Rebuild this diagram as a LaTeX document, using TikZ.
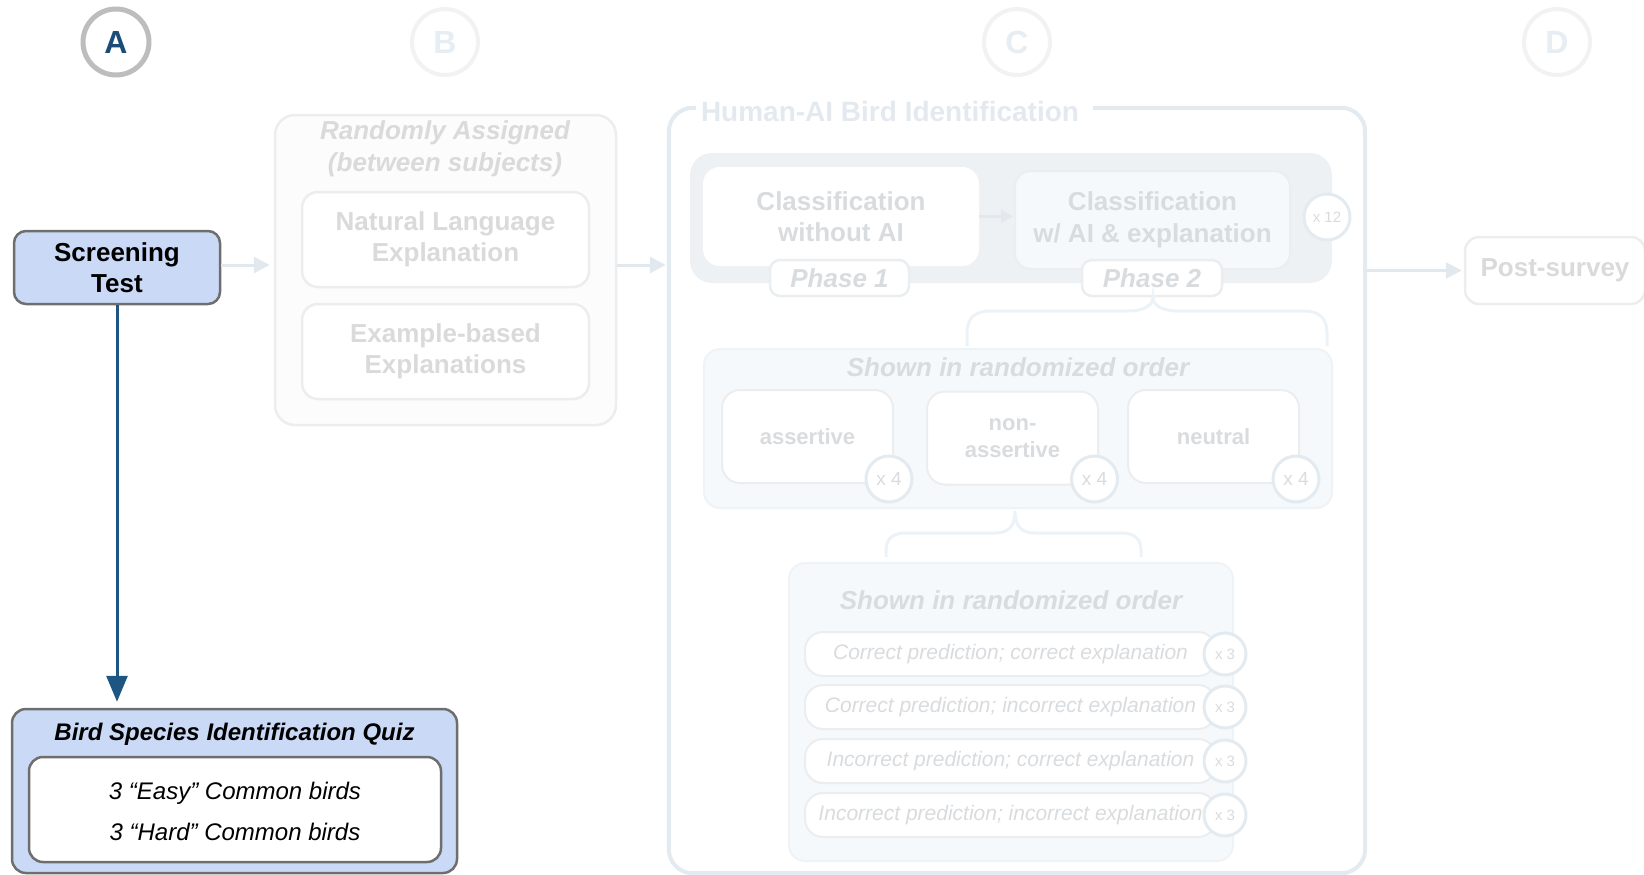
\documentclass[tikz,border=0pt]{standalone}
\usepackage{fontspec}
\setmainfont{Liberation Sans}
\usetikzlibrary{arrows.meta}

\definecolor{navyline}{HTML}{1D5683}
\definecolor{navyletter}{HTML}{1B4C78}
\definecolor{ringA}{HTML}{BDBDBD}
\definecolor{stepfill}{HTML}{C9D9F6}
\definecolor{stepline}{HTML}{6E6E6E}
\definecolor{fadering}{HTML}{F1F2F3}
\definecolor{fadeletter}{HTML}{E6EDF3}
\definecolor{grayline}{HTML}{EDEDED}
\definecolor{graytext}{HTML}{DADADA}
\definecolor{palearrow}{HTML}{E1E8EE}
\definecolor{cline}{HTML}{E3EAF0}
\definecolor{ctitle}{HTML}{E3E9EF}
\definecolor{bandfill}{HTML}{EEF1F4}
\definecolor{ctext}{HTML}{D9DCDF}
\definecolor{paleblue}{HTML}{F5F9FC}
\definecolor{boxline}{HTML}{EAEEF1}
\definecolor{bracecol}{HTML}{EBF2F8}
\definecolor{panelline}{HTML}{EEF3F7}

\tikzset{
  stagecirc/.style={circle, draw=fadering, fill=white, text=fadeletter, line width=4pt,
    minimum size=66pt, inner sep=0pt, font=\fontsize{32}{32}\selectfont\bfseries},
  activebox/.style={rectangle, rounded corners=12pt, draw=stepline, fill=stepfill,
    line width=2.5pt, inner sep=0pt, align=center},
  fadepanel/.style={rectangle, rounded corners=20pt, draw=grayline, fill=white!98!gray,
    line width=2.5pt, inner sep=0pt},
  fadebox/.style={rectangle, rounded corners=16pt, draw=grayline, fill=white, line width=2.5pt,
    inner sep=0pt, align=center, text=graytext, font=\fontsize{26}{31.5}\selectfont\bfseries,
    minimum width=287pt, minimum height=95pt},
  palearrowline/.style={draw=palearrow, line width=3pt,
    -{Triangle[length=16pt,width=16pt]}, color=palearrow},
  clsbox/.style={rectangle, rounded corners=16pt, line width=2pt, inner sep=0pt, align=center,
    text=ctext, font=\fontsize{26}{31.5}\selectfont\bfseries},
  phasetag/.style={rectangle, rounded corners=10pt, draw=boxline, fill=white, line width=2.5pt,
    inner sep=0pt, text=ctext, font=\fontsize{26}{26}\selectfont\bfseries\itshape,
    minimum width=139pt, minimum height=36pt},
  countcirc/.style={circle, draw=cline, fill=white, line width=3pt, inner sep=0pt,
    text=ctext, font=\fontsize{#1}{#1}\selectfont},
  tonebox/.style={rectangle, rounded corners=18pt, draw=boxline, fill=white, line width=2pt,
    inner sep=0pt, align=center, text=ctext, font=\fontsize{22}{27}\selectfont\bfseries,
    minimum width=171pt, minimum height=93pt},
  rowbox/.style={rectangle, rounded corners=18pt, draw=boxline, fill=white, line width=2pt,
    inner sep=0pt, text=ctext, font=\fontsize{21}{21}\selectfont\itshape,
    minimum width=411pt, minimum height=44pt},
  orderpanel/.style={rectangle, rounded corners=16pt, draw=panelline, fill=paleblue,
    line width=2pt, inner sep=0pt},
  ordertitle/.style={text=ctext, font=\fontsize{26}{26}\selectfont\bfseries\itshape},
  bracestyle/.style={draw=bracecol, line width=3pt}
}

\begin{document}
\begin{tikzpicture}[x=1pt, y=-1pt]
\useasboundingbox (0,0) rectangle (1644,875);

% stage markers
\node[stagecirc, draw=ringA, text=navyletter, line width=5pt] (stA) at (116,42) {A};
\node[stagecirc] (stB) at (445,42) {B};
\node[stagecirc] (stC) at (1017,42) {C};
\node[stagecirc] (stD) at (1557,42) {D};

% stage A: screening
\node[activebox, minimum width=206pt, minimum height=73pt,
      font=\fontsize{26}{31.5}\selectfont\bfseries] (scr) at (117,267.5) {Screening\\Test};
\node[activebox, rounded corners=14pt, minimum width=445pt, minimum height=164pt] (quiz) at (234.5,791) {};
\node[rectangle, rounded corners=14pt, draw=stepline, fill=white, line width=2.5pt,
      minimum width=412pt, minimum height=105pt] (quizlist) at (235,809.5) {};
\node[font=\fontsize{24}{24}\selectfont\bfseries\itshape] (quiztitle) at (234.5,734) {Bird Species Identification Quiz};
\node[font=\fontsize{24}{24}\selectfont\itshape] (easy) at (235,793) {3 “Easy” Common birds};
\node[font=\fontsize{24}{24}\selectfont\itshape] (hard) at (235,831.5) {3 “Hard” Common birds};
\draw[navyline, line width=3pt, -{Triangle[length=26pt,width=21pt]}, shorten >=6pt]
  (scr.south) -- (scr.south |- quiz.north);

% stage B: condition assignment
\node[fadepanel, minimum width=341pt, minimum height=310pt] (bpanel) at (445.5,270) {};
\node[align=center, text=graytext, font=\fontsize{26}{31.5}\selectfont\bfseries\itshape]
  (btitle) at (445,149) {Randomly Assigned\\(between subjects)};
\node[fadebox] (natlang) at (445.5,239.5) {Natural Language\\Explanation};
\node[fadebox] (example) at (445.5,351.5) {Example-based\\Explanations};
\coordinate (rowy) at (0,265);
\draw[palearrowline, shorten >=4pt] (scr.east |- rowy) -- (bpanel.west |- rowy);

% stage C: human-AI identification
\node[minimum width=696pt, minimum height=765pt, inner sep=0pt] (cpanel) at (1017,490.5) {};
\draw[draw=cline, line width=4pt, rounded corners=24pt]
  ([xshift=27pt]cpanel.north west) -- (cpanel.north west) -- (cpanel.south west)
  -- (cpanel.south east) -- (cpanel.north east) -- ([xshift=-272pt]cpanel.north east);
\node[text=ctitle, font=\fontsize{28}{28}\selectfont\bfseries] (ctitle) at (890,111) {Human-AI Bird Identification};
\draw[palearrowline, shorten >=3pt] (bpanel.east |- rowy) -- (cpanel.west |- rowy);

\node[rectangle, rounded corners=22pt, fill=bandfill, minimum width=642pt, minimum height=130pt] (band) at (1011,218) {};
\node[clsbox, fill=white, draw=white, minimum width=274pt, minimum height=97pt] (cls1) at (841,216.5) {Classification\\without AI};
\node[clsbox, fill=paleblue, draw=boxline, minimum width=275pt, minimum height=98pt] (cls2) at (1152.5,220) {Classification\\w/ AI \& explanation};
\draw[draw=palearrow, line width=3pt, -{Triangle[length=12pt,width=13pt]}, shorten >=1pt]
  (cls1.east) -- (cls1.east -| cls2.west);
\node[phasetag] (ph1) at (839.5,278) {Phase 1};
\node[phasetag, minimum width=140pt] (ph2) at (1152,278) {Phase 2};
\node[countcirc=15, minimum size=46pt] (rep12) at (1327,217) {x 12};

% first brace: phase 2 expands into tones
\draw[bracestyle] (967,346) -- (967,333) .. controls (967,318) and (975,311) .. (990,311)
  -- (1128,311) .. controls (1145,311) and (1153,305) .. (1153,297)
  .. controls (1153,305) and (1161,311) .. (1178,311)
  -- (1304,311) .. controls (1319,311) and (1327,318) .. (1327,333) -- (1327,346);

\node[orderpanel, minimum width=628pt, minimum height=159pt] (tones) at (1018,428.5) {};
\node[ordertitle] (tonetitle) at (1018,367) {Shown in randomized order};
\node[tonebox] (assert) at (807.5,436.5) {assertive};
\node[tonebox] (nonassert) at (1012.5,438) {non-\\assertive};
\node[tonebox] (neutral) at (1213.5,436.5) {neutral};
\node[countcirc=19, minimum size=46pt] (rep4a) at (889,479) {x 4};
\node[countcirc=19, minimum size=46pt] (rep4b) at (1094.5,479) {x 4};
\node[countcirc=19, minimum size=46pt] (rep4c) at (1296,479) {x 4};

% second brace: tones expand into prediction/explanation cases
\draw[bracestyle] (886,557) -- (886,550) .. controls (886,539) and (893,533) .. (905,533)
  -- (995,533) .. controls (1008,533) and (1015,527) .. (1015,511)
  .. controls (1015,527) and (1022,533) .. (1035,533)
  -- (1122,533) .. controls (1134,533) and (1141,539) .. (1141,550) -- (1141,557);

\node[orderpanel, minimum width=444pt, minimum height=298pt] (cases) at (1011,712) {};
\node[ordertitle] (casetitle) at (1011,600) {Shown in randomized order};
\node[rowbox] (case1) at (1010.5,654) {Correct prediction; correct explanation};
\node[rowbox] (case2) at (1010.5,707) {Correct prediction; incorrect explanation};
\node[rowbox] (case3) at (1010.5,761) {Incorrect prediction; correct explanation};
\node[rowbox] (case4) at (1010.5,815) {Incorrect prediction; incorrect explanation};
\foreach \r in {1,...,4}{
  \node[countcirc=15, minimum size=42pt] (rep3\r) at (1225,0 |- case\r) {x 3};
}

% stage D: post-survey
\node[rectangle, rounded corners=14pt, draw=grayline, fill=white, line width=2.5pt,
      minimum width=180pt, minimum height=67pt, inner sep=0pt, text=graytext,
      font=\fontsize{26}{26}\selectfont\bfseries] (post) at (1555,270.5) {Post-survey};
\draw[palearrowline, shorten >=2pt] (cpanel.east |- post.west) -- (post.west);
\end{tikzpicture}
\end{document}
